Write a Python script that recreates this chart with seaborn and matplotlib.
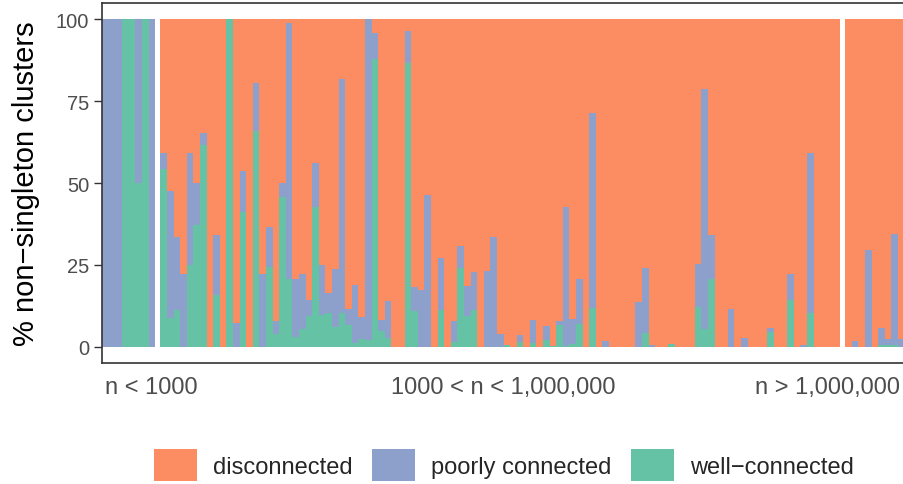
import matplotlib

matplotlib.use("Agg")

import matplotlib.pyplot as plt
import numpy as np
import pandas as pd
import seaborn as sns
from matplotlib.patches import Patch

# % of non-singleton clusters per network, grouped by network size
small_well = [0, 0, 0, 100, 100, 50, 100, 0]
small_poor = [100, 100, 100, 0, 0, 50, 0, 100]

mid_well = [
    54.4, 8.6, 11.1, 0, 24.9, 37.3, 61.7, 0, 15.8, 0,
    100, 0, 41.2, 0, 66.0, 0, 24.3, 4.0, 45.7, 20.7,
    3.0, 5.4, 9.3, 42.8, 9.7, 10.3, 6.0, 10.3, 6.6, 1.1,
    2.3, 1.9, 87.8, 4.8, 2.5, 0, 0, 86.6, 10.9, 0,
    0, 0, 11.3, 0, 1.3, 24.1, 9.3, 11.1, 0, 0,
    0, 0, 0.5, 0, 1.3, 0, 1.1, 0, 1.9, 0.3,
    6.6, 0.1, 0.7, 6.8, 0, 11.7, 0, 0, 0, 0,
    0, 0, 0, 4.2, 0, 0, 0, 0.7, 0, 0,
    0, 12.1, 5.5, 20.7, 0, 0, 0, 0, 0, 0,
    0, 0, 4.4, 0, 0, 14.1, 0, 0, 10.3, 0,
    0, 0, 0,
]
mid_poor = [
    4.7, 39.1, 22.4, 22.1, 34.4, 12.7, 3.7, 0, 18.3, 0,
    0, 7.2, 12.6, 0, 14.7, 22.1, 12.2, 3.8, 4.2, 78.3,
    17.7, 16.7, 4.8, 13.2, 15.2, 6.1, 17.7, 71.4, 4.9, 17.7,
    6.8, 98.1, 8.1, 3.2, 11.4, 0, 0, 9.7, 7.3, 17.2,
    46.3, 0, 15.7, 0, 6.5, 6.5, 9.1, 11.6, 0, 23.1,
    33.5, 3.8, 0, 0, 2.3, 0, 6.9, 0, 4.3, 0,
    1.2, 42.7, 7.7, 13.9, 0, 59.8, 0, 1.7, 0, 0,
    0, 0, 13.5, 19.7, 0.5, 0, 0, 0, 0, 0,
    0, 13.0, 73.3, 13.4, 0, 0, 11.5, 0, 2.5, 0,
    0, 0, 1.2, 0, 0, 8.0, 0, 0.5, 49.0, 0,
    0, 0, 0,
]

large_well = [0, 0, 0, 0, 0, 0.5, 0.5, 0.5, 0]
large_poor = [0, 1.7, 0, 29.5, 0, 5.1, 1.8, 33.9, 2.3]

group_labels = ["n < 1000", "1000 < n < 1,000,000", "n > 1,000,000"]
status_labels = ["disconnected", "poorly connected", "well\u2212connected"]
colors = ["#FC8D62", "#8DA0CB", "#66C2A5"]

# lay the three size groups side by side with a small gap between them
gap = 0.8
frames = []
start = 0.0
for name, well, poor in [
    (group_labels[0], small_well, small_poor),
    (group_labels[1], mid_well, mid_poor),
    (group_labels[2], large_well, large_poor),
]:
    n = len(well)
    frames.append(pd.DataFrame({
        "group": name,
        "pos": start + np.arange(n),
        "well": well,
        "poor": poor,
    }))
    start += n + gap
df = pd.concat(frames, ignore_index=True)
df["connected"] = df["well"] + df["poor"]
df["all"] = df["connected"] + (100 - df["connected"])

sns.set_theme(style="white")
plt.rcParams["font.family"] = ["Liberation Sans", "DejaVu Sans"]

fig = plt.figure(figsize=(9.04, 4.85), dpi=100)
ax = fig.add_axes([101.7 / 904, 1 - 364 / 485, 1 - 101.7 / 904, 360 / 485])

bar_kw = dict(native_scale=True, width=1, errorbar=None, saturation=1,
              linewidth=0, antialiased=False, ax=ax)
sns.barplot(data=df, x="pos", y="all", color=colors[0], **bar_kw)
sns.barplot(data=df, x="pos", y="connected", color=colors[1], **bar_kw)
sns.barplot(data=df, x="pos", y="well", color=colors[2], **bar_kw)

ax.set_xlim(-0.6, df["pos"].iloc[-1] + 0.4)
ax.set_ylim(-5, 105)
ax.set_xticks([])
ax.set_xlabel("")
ax.set_yticks([0, 25, 50, 75, 100])
ax.tick_params(axis="y", left=True, length=6, width=1, color="#333333",
               labelsize=14.5, labelcolor="#4D4D4D", pad=3)
for side in ["top", "bottom", "left"]:
    ax.spines[side].set_color("#333333")
    ax.spines[side].set_linewidth(1.2)
ax.spines["right"].set_visible(False)

ax.set_ylabel("% non\u2212singleton clusters", fontsize=21, color="black")
ax.yaxis.set_label_coords(-0.0775, 0.5)

fig.text(105 / 904, 1 - 388 / 485, group_labels[0], ha="left", va="center",
         fontsize=17, color="#4D4D4D")
fig.text(503 / 904, 1 - 388 / 485, group_labels[1], ha="center", va="center",
         fontsize=17, color="#4D4D4D")
fig.text(900 / 904, 1 - 388 / 485, group_labels[2], ha="right", va="center",
         fontsize=17, color="#4D4D4D")

handles = [Patch(facecolor=c, edgecolor="none") for c in colors]
fig.legend(handles, status_labels, loc="center", ncol=3, frameon=False,
           bbox_to_anchor=(504 / 904, 1 - 466 / 485), fontsize=17,
           handlelength=1.82, handleheight=1.7, handletextpad=0.7,
           columnspacing=0.8, borderpad=0)

fig.savefig("out.png", dpi=100)
